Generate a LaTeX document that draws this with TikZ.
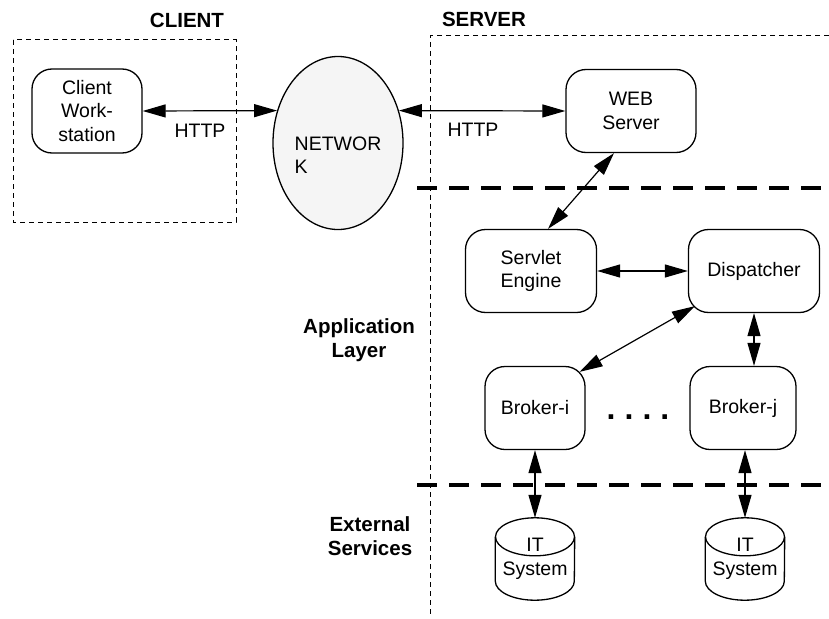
\documentclass[tikz,border=0pt]{standalone}
\usepackage{fontspec}
\setmainfont{Liberation Sans}
\usetikzlibrary{positioning}
\usetikzlibrary{shapes.geometric}
\usetikzlibrary{arrows.meta}
\usetikzlibrary{calc}

\begin{document}
\begin{tikzpicture}
  [
    x=1pt, y=-1pt,
    >={Triangle[length=23pt,width=13pt]},
    every node/.style={font=\fontsize{19.5}{23.5}\selectfont},
    box/.style={draw=black, line width=1.3pt, rounded corners=20pt,
      align=center, inner sep=0pt},
    db/.style={minimum width=79pt, minimum height=82pt, inner sep=0pt,
      align=center},
    dbline/.style={draw=black, line width=1.3pt},
    layer/.style={font=\fontsize{20.5}{24}\selectfont\bfseries, align=center},
    ld/.style={draw=black, line width=1.2pt, <->},
    sep/.style={draw=black, line width=3.5pt, dash pattern=on 20pt off 12pt},
    zone/.style={draw=black, line width=1pt, dash pattern=on 5pt off 4pt}
  ]
  \useasboundingbox (0,0) rectangle (829,618);

  % client and server zones
  \draw [zone] (13,40) rectangle (236,222);
  \draw [zone] (829,36) -- (430,36) -- (430,617);
  \draw [sep] (417,188) -- (829,188);
  \draw [sep] (417,485) -- (829,485);

  \node (clabel) at (187,20)  [layer] {CLIENT};
  \node (slabel) at (484,19)  [layer] {SERVER};
  \node (applbl) at (359,340) [layer] {Application\\Layer};
  \node (extlbl) at (370,536) [layer] {External\\Services};

  \node (cws)  at (87,111)  [box, minimum width=110pt, minimum height=84pt] {Client\\Work-\\station};
  \node (net)  at (338,143) [ellipse, draw, line width=1.3pt, fill=gray!8,
                             minimum width=130pt, minimum height=173pt] {};
  \node (nettxt) at (338,155) [align=left] {NETWOR\\K};
  \node (web)  at (631,111) [box, minimum width=130pt, minimum height=83pt] {WEB\\Server};
  \node (seng) at (531,271) [box, minimum width=131pt, minimum height=83pt] {Servlet\\Engine};
  \node (disp) at (754,271) [box, minimum width=131pt, minimum height=83pt] {Dispatcher};
  \node (bi)   at (535,408) [box, minimum width=100pt, minimum height=83pt] {Broker-i};
  \node (bj)   at (743,408) [box, minimum width=106pt, minimum height=83pt] {Broker-j};
  \node (dots) at (638,417) [font=\fontsize{32}{34}\selectfont\bfseries]
    {.\hspace{9pt}.\hspace{9pt}.\hspace{9pt}.};
  \node (it1)  at (535,559) [db] {IT\\System};
  \node (it2)  at (745,559) [db] {IT\\System};

  % cylinder outlines of the IT systems
  \foreach \db in {it1,it2} {
    \draw [dbline] ($(\db.north west)+(0,19)$) -- ($(\db.south west)+(0,-19)$)
      arc [start angle=180, end angle=360, x radius=39.5pt, y radius=19pt]
      -- ($(\db.north east)+(0,19)$);
    \draw [dbline] ($(\db.north)+(0,19)$) ellipse [x radius=39.5pt, y radius=19pt];
  }

  \node (http1) at (200,131) {HTTP};
  \node (http2) at (473,130) {HTTP};

  \draw [ld] (cws.east) -- (net.152);
  \draw [ld] (net.28) -- (web.west);
  \draw [ld] (web.248) -- (seng.68);
  \draw [ld] (seng.east) -- (disp.west);
  \draw [ld] ($(disp.south west)+(7,-7)$) -- ($(bi.north east)+(-6,6)$);
  \draw [ld] (disp.south) -- (disp.south |- bj.north);
  \draw [ld] (bi) -- (it1);
  \draw [ld] (bj.south -| it2) -- (it2);
\end{tikzpicture}
\end{document}
